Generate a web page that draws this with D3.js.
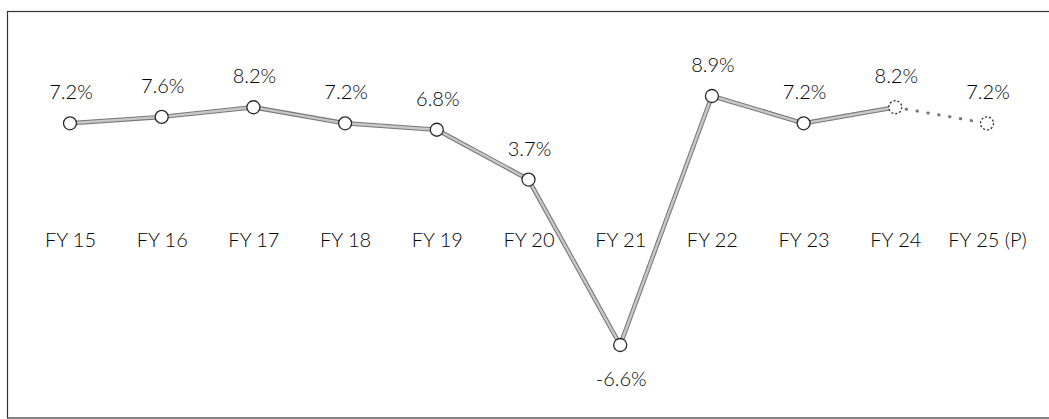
<!DOCTYPE html>
<html>
<head>
	<meta http-equiv="Content-Type" content="text/html; charset=utf-8"/>
	<title>GDP growth</title>
	<style>
		body { margin: 0; background: #fff; }
		svg text { font-family: "Lato", "Open Sans", sans-serif; font-weight: 300; fill: #000; }
	</style>
</head>
<body>
	<svg width="1049" height="419" id="viz"></svg>

	<script src="https://d3js.org/d3.v7.min.js"></script>
	<script>
		// Datos
		var anios = ["FY 15", "FY 16", "FY 17", "FY 18", "FY 19", "FY 20", "FY 21", "FY 22", "FY 23", "FY 24", "FY 25 (P)"];
		var crecimiento = [7.2, 7.6, 8.2, 7.2, 6.8, 3.7, -6.6, 8.9, 7.2, 8.2, 7.2];
		var etiquetas = ["7.2%", "7.6%", "8.2%", "7.2%", "6.8%", "3.7%", "-6.6%", "8.9%", "7.2%", "8.2%", "7.2%"];
		var proyectados = ["FY 24", "FY 25 (P)"];

		var datos = anios.map((a, i) => ({anio: a, valor: crecimiento[i], etiqueta: etiquetas[i]}));

		const width = 1049, height = 419;
		const svg = d3.select("#viz");

		// Marco
		svg.append("rect")
			.attr("x", 7.5).attr("y", 11.5)
			.attr("width", 1050).attr("height", 406.5)
			.attr("fill", "none")
			.attr("stroke", "#333")
			.attr("stroke-width", 1.2);

		// Escalas
		const x = d3.scalePoint()
			.domain(anios)
			.range([70, 987]);

		const y = d3.scaleLinear()
			.domain(d3.extent(crecimiento))
			.range([345, 96]);

		// Eje x (categorias sobre la linea de cero)
		svg.append("g")
			.attr("transform", `translate(0,${y(0)})`)
			.call(d3.axisBottom(x).tickSize(0).tickPadding(-6))
			.call(g => g.select(".domain").remove())
			.call(g => g.selectAll("text")
				.attr("font-size", "20px")
				.style("font-family", "Lato, sans-serif")
				.style("font-weight", 300)
				.attr("fill", "#000"));

		// Lineas
		const linea = d3.line().x(d => x(d.anio)).y(d => y(d.valor));
		const reales = datos.filter(d => d.anio !== "FY 25 (P)");
		const proy = datos.filter(d => proyectados.includes(d.anio));

		svg.append("path")
			.datum(reales)
			.attr("d", linea)
			.attr("fill", "none")
			.attr("stroke", "#777")
			.attr("stroke-width", 4.5)
			.attr("stroke-linejoin", "round");

		svg.append("path")
			.datum(reales)
			.attr("d", linea)
			.attr("fill", "none")
			.attr("stroke", "#c8c8c8")
			.attr("stroke-width", 2.4)
			.attr("stroke-linejoin", "round");

		svg.append("path")
			.datum(proy)
			.attr("d", linea)
			.attr("fill", "none")
			.attr("stroke", "#777")
			.attr("stroke-width", 3)
			.attr("stroke-linecap", "round")
			.attr("stroke-dasharray", "0.5,10.5");

		// Puntos
		svg.selectAll("circle.pt")
			.data(datos)
			.enter()
			.append("circle")
			.attr("class", "pt")
			.attr("cx", d => x(d.anio))
			.attr("cy", d => y(d.valor))
			.attr("r", 6.5)
			.attr("fill", "#fff")
			.attr("stroke", "#2a2a2a")
			.attr("stroke-width", 1.3)
			.attr("stroke-dasharray", d => proyectados.includes(d.anio) ? "2,2" : null);

		// Etiquetas de valor
		svg.selectAll("text.lbl")
			.data(datos)
			.enter()
			.append("text")
			.attr("class", "lbl")
			.attr("x", d => x(d.anio) + 1)
			.attr("y", d => d.valor < 0 ? y(d.valor) + 41 : y(d.valor) - 24)
			.attr("text-anchor", "middle")
			.attr("font-size", "20px")
			.text(d => d.etiqueta);
	</script>
</body>
</html>
